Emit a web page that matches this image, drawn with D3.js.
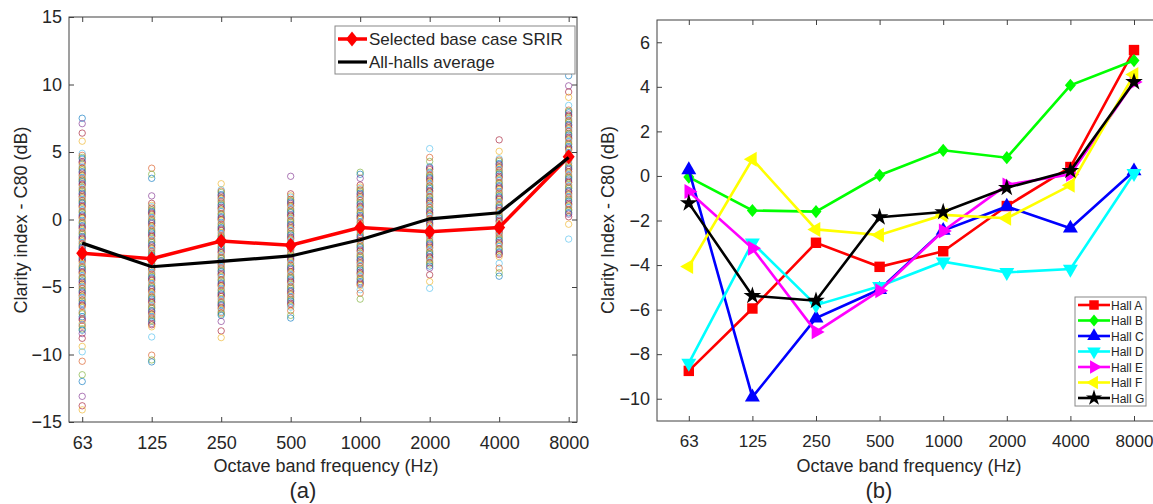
<!DOCTYPE html>
<html>
<head>
<meta charset="utf-8">
<script src="https://cdn.jsdelivr.net/npm/d3@7"></script>
<style>
  body { margin: 0; background: #fff; }
  text { font-family: Arial, "Liberation Sans", sans-serif; fill: #262626; }
</style>
</head>
<body>
<div id="chart"></div>
<script>
var w = 1153;
var h = 504;

var bands = ["63", "125", "250", "500", "1000", "2000", "4000", "8000"];

var c63 = [7.5, 7.1, 6.4, 5.8, 4.9, 4.75, 4.6, 4.5, 4.3, 4.2, 4.05, 3.9, 3.8, 3.7, 3.55, 3.45, 3.3, 3.2, 3.1, 3.0, 2.9, 2.8, 2.65, 2.55, 2.4, 2.3, 2.2, 2.1, 1.95, 1.85, 1.7, 1.6, 1.5, 1.4, 1.3, 1.2, 1.05, 0.95, 0.85, 0.7, 0.6, 0.5, 0.35, 0.25, 0.15, 0.05, -0.1, -0.2, -0.3, -0.45, -0.55, -0.65, -0.8, -0.9, -1.0, -1.1, -1.25, -1.35, -1.45, -1.6, -1.7, -1.8, -1.95, -2.05, -2.15, -2.3, -2.4, -2.55, -2.65, -2.8, -2.9, -3.0, -3.1, -3.25, -3.4, -3.5, -3.6, -3.7, -3.85, -3.95, -4.05, -4.2, -4.3, -4.4, -4.55, -4.65, -4.8, -4.9, -5.0, -5.1, -5.25, -5.35, -5.45, -5.6, -5.7, -5.8, -5.95, -6.05, -6.2, -6.3, -6.4, -6.5, -6.75, -6.9, -7.0, -7.2, -7.35, -7.45, -7.7, -7.8, -7.9, -8.1, -8.2, -8.45, -8.8, -9.4, -9.8, -10.5, -11.5, -12.0, -13.1, -13.8, -14.1];
var c125 = [3.8, 3.35, 3.05, 1.75, 1.2, 1.05, 0.95, 0.85, 0.7, 0.6, 0.5, 0.4, 0.25, 0.15, 0.0, -0.1, -0.2, -0.3, -0.45, -0.55, -0.7, -0.8, -0.9, -1.0, -1.15, -1.25, -1.4, -1.5, -1.6, -1.7, -1.85, -1.95, -2.1, -2.2, -2.3, -2.4, -2.55, -2.65, -2.8, -2.9, -3.0, -3.1, -3.25, -3.35, -3.5, -3.6, -3.7, -3.8, -3.95, -4.05, -4.2, -4.3, -4.4, -4.5, -4.65, -4.75, -4.9, -5.0, -5.1, -5.2, -5.35, -5.45, -5.6, -5.7, -5.8, -5.9, -6.05, -6.15, -6.3, -6.4, -6.5, -6.6, -6.75, -6.85, -7.0, -7.1, -7.2, -7.3, -7.45, -7.55, -7.7, -7.8, -7.95, -8.7, -10.05, -10.4, -10.55];
var c250 = [2.65, 2.2, 2.1, 2.0, 1.85, 1.75, 1.6, 1.5, 1.4, 1.3, 1.15, 1.05, 0.9, 0.8, 0.7, 0.6, 0.45, 0.35, 0.2, 0.1, 0.0, -0.1, -0.25, -0.35, -0.5, -0.6, -0.7, -0.8, -0.95, -1.05, -1.2, -1.3, -1.4, -1.5, -1.65, -1.75, -1.9, -2.0, -2.1, -2.2, -2.35, -2.45, -2.6, -2.7, -2.8, -2.9, -3.05, -3.15, -3.3, -3.4, -3.5, -3.6, -3.75, -3.85, -4.0, -4.1, -4.2, -4.3, -4.45, -4.55, -4.7, -4.8, -4.9, -5.0, -5.15, -5.25, -5.4, -5.5, -5.6, -5.7, -5.85, -5.95, -6.1, -6.2, -6.3, -6.4, -6.55, -6.65, -6.8, -6.9, -7.0, -7.1, -7.55, -8.25, -8.75];
var c500 = [3.2, 1.9, 1.75, 1.65, 1.5, 1.4, 1.3, 1.2, 1.05, 0.95, 0.8, 0.7, 0.6, 0.5, 0.35, 0.25, 0.1, 0.0, -0.1, -0.2, -0.35, -0.45, -0.6, -0.7, -0.8, -0.9, -1.05, -1.15, -1.3, -1.4, -1.5, -1.6, -1.75, -1.85, -2.0, -2.1, -2.2, -2.3, -2.45, -2.55, -2.7, -2.8, -2.9, -3.0, -3.15, -3.25, -3.4, -3.5, -3.6, -3.7, -3.85, -3.95, -4.1, -4.2, -4.3, -4.4, -4.55, -4.65, -4.8, -4.9, -5.0, -5.1, -5.25, -5.35, -5.5, -5.6, -5.7, -5.8, -5.95, -6.05, -6.2, -6.3, -6.4, -6.5, -6.75, -7.1, -7.3];
var c1000 = [3.5, 3.35, 3.05, 2.55, 2.4, 2.3, 2.2, 2.1, 1.95, 1.85, 1.7, 1.6, 1.5, 1.4, 1.25, 1.15, 1.0, 0.9, 0.8, 0.7, 0.55, 0.45, 0.3, 0.2, 0.1, 0.0, -0.15, -0.25, -0.4, -0.5, -0.6, -0.7, -0.85, -0.95, -1.1, -1.2, -1.3, -1.4, -1.55, -1.65, -1.8, -1.9, -2.0, -2.1, -2.25, -2.35, -2.5, -2.6, -2.7, -2.8, -2.95, -3.05, -3.2, -3.3, -3.4, -3.5, -3.65, -3.75, -3.9, -4.0, -4.1, -4.2, -4.35, -4.45, -4.6, -4.7, -4.8, -4.9, -5.2, -5.45, -5.9];
var c2000 = [5.25, 4.6, 4.3, 3.9, 3.8, 3.7, 3.55, 3.45, 3.3, 3.2, 3.1, 3.0, 2.85, 2.75, 2.6, 2.5, 2.4, 2.3, 2.15, 2.05, 1.9, 1.8, 1.7, 1.6, 1.45, 1.35, 1.2, 1.1, 1.0, 0.9, 0.75, 0.65, 0.5, 0.4, 0.3, 0.2, 0.05, -0.05, -0.2, -0.3, -0.4, -0.5, -0.65, -0.75, -0.9, -1.0, -1.1, -1.2, -1.35, -1.45, -1.6, -1.7, -1.8, -1.9, -2.05, -2.15, -2.3, -2.4, -2.5, -2.6, -2.75, -2.85, -3.0, -3.1, -3.2, -3.3, -3.45, -3.6, -4.1, -4.6, -5.1];
var c4000 = [5.9, 5.05, 4.5, 4.4, 4.3, 4.15, 4.05, 3.9, 3.8, 3.7, 3.6, 3.45, 3.35, 3.2, 3.1, 3.0, 2.9, 2.75, 2.65, 2.5, 2.4, 2.3, 2.2, 2.05, 1.95, 1.8, 1.7, 1.6, 1.5, 1.35, 1.25, 1.1, 1.0, 0.9, 0.8, 0.65, 0.55, 0.4, 0.3, 0.2, 0.1, -0.05, -0.15, -0.3, -0.4, -0.5, -0.6, -0.75, -0.85, -1.0, -1.1, -1.2, -1.3, -1.45, -1.55, -1.7, -1.8, -1.9, -2.0, -2.15, -2.25, -2.4, -2.5, -2.6, -2.75, -3.25, -3.6, -3.95, -4.2];
var c8000 = [10.65, 9.9, 9.45, 9.05, 8.45, 8.1, 8.0, 7.9, 7.75, 7.65, 7.5, 7.4, 7.3, 7.2, 7.05, 6.95, 6.8, 6.7, 6.6, 6.5, 6.35, 6.25, 6.1, 6.0, 5.9, 5.8, 5.65, 5.55, 5.4, 5.3, 5.2, 5.1, 4.95, 4.85, 4.7, 4.6, 4.5, 4.4, 4.25, 4.15, 4.0, 3.9, 3.8, 3.7, 3.55, 3.45, 3.3, 3.2, 3.1, 3.0, 2.85, 2.75, 2.6, 2.5, 2.4, 2.3, 2.15, 2.05, 1.9, 1.8, 1.7, 1.6, 1.45, 1.35, 1.2, 1.1, 1.0, 0.9, 0.75, 0.65, 0.5, 0.4, 0.2, -0.35, -1.45];
var scatterCols = [c63, c125, c250, c500, c1000, c2000, c4000, c8000];

var baseCase = [-2.5, -2.9, -1.6, -1.9, -0.6, -0.9, -0.6, 4.65];
var hallsAvg = [-1.75, -3.5, -3.1, -2.7, -1.5, 0.05, 0.5, 4.6];

// panel (b): per-hall values
var hallNames = ["Hall A", "Hall B", "Hall C", "Hall D", "Hall E", "Hall F", "Hall G"];
var hallA = [-8.75, -5.95, -3.0, -4.08, -3.38, -1.35, 0.4, 5.65];
var hallB = [-0.05, -1.55, -1.6, 0.03, 1.15, 0.82, 4.07, 5.18];
var hallC = [0.27, -9.93, -6.38, -5.1, -2.45, -1.37, -2.35, 0.22];
var hallD = [-8.4, -3.0, -5.8, -4.95, -3.85, -4.33, -4.18, 0.12];
var hallE = [-0.7, -3.25, -7.0, -5.15, -2.47, -0.4, 0.07, 4.22];
var hallF = [-4.07, 0.75, -2.4, -2.65, -1.75, -1.9, -0.42, 4.55];
var hallG = [-1.22, -5.38, -5.6, -1.85, -1.62, -0.53, 0.23, 4.22];
var hallVals = [hallA, hallB, hallC, hallD, hallE, hallF, hallG];
var hallColors = ["#ff0000", "#00ff00", "#0000ff", "#00ffff", "#ff00ff", "#ffff00", "#000000"];
var hallMarkers = ["square", "diamond", "up", "down", "right", "left", "star"];

var matlabColors = ["#0072BD", "#D95319", "#EDB120", "#7E2F8E", "#77AC30", "#4DBEEE", "#A2142F"];

var svg = d3.select("#chart")
            .append("svg")
            .attr("width", w)
            .attr("height", h);

svg.append("rect").attr("width", w).attr("height", h).attr("fill", "#fff");

function markerPath(type, s) {
  if (type == "diamond") {
    return "M0," + (-s * 1.2) + "L" + s + ",0L0," + (s * 1.2) + "L" + (-s) + ",0Z";
  }
  if (type == "square") return d3.symbol().type(d3.symbolSquare).size(s * s * 3.6)();
  if (type == "star") return d3.symbol().type(d3.symbolStar).size(s * s * 3.2)();
  return d3.symbol().type(d3.symbolTriangle).size(s * s * 3.2)();
}
function markerRot(type) {
  if (type == "down") return 180;
  if (type == "right") return 90;
  if (type == "left") return -90;
  return 0;
}

function drawFrame(g, x, y, yTicks, box, xFont) {
  var idx = d3.range(1, 9);
  g.append("g")
   .attr("class", "xlab")
   .attr("transform", "translate(0," + box.bottom + ")")
   .call(d3.axisBottom(x).tickValues(idx).tickFormat(function(d) { return bands[d - 1]; })
           .tickSizeInner(-5).tickSizeOuter(0).tickPadding(14))
   .call(function(a) { a.select(".domain").remove(); });
  g.append("g")
   .attr("transform", "translate(0," + box.top + ")")
   .call(d3.axisTop(x).tickValues(idx).tickFormat("").tickSizeInner(-5).tickSizeOuter(0))
   .call(function(a) { a.select(".domain").remove(); });
  g.append("g")
   .attr("transform", "translate(" + box.left + ",0)")
   .call(d3.axisLeft(y).tickValues(yTicks).tickSizeInner(-5).tickSizeOuter(0).tickPadding(7))
   .call(function(a) { a.select(".domain").remove(); });
  g.append("g")
   .attr("transform", "translate(" + box.right + ",0)")
   .call(d3.axisRight(y).tickValues(yTicks).tickFormat("").tickSizeInner(-5).tickSizeOuter(0))
   .call(function(a) { a.select(".domain").remove(); });
  g.selectAll(".tick line").attr("stroke", "#404040");
  g.selectAll(".tick text").style("font-size", "18px").attr("fill", "#262626");
  g.selectAll(".xlab .tick text").style("font-size", xFont);
  g.append("rect")
   .attr("x", box.left).attr("y", box.top)
   .attr("width", box.right - box.left).attr("height", box.bottom - box.top)
   .attr("fill", "none").attr("stroke", "#404040").attr("stroke-width", 1);
}

// ---------- panel (a) ----------
var xA = d3.scaleLinear().domain([0.81, 8.12]).range([69, 577]);
var yA = d3.scaleLinear().domain([-15, 15]).range([422, 17]);
var gA = svg.append("g");

var pts = [];
scatterCols.forEach(function(col, i) {
  col.forEach(function(v, j) { pts.push({band: i + 1, val: v, c: (j * 3 + i) % 7}); });
});
gA.append("g")
  .selectAll("circle")
  .data(pts)
  .enter()
  .append("circle")
  .attr("cx", function(d) { return xA(d.band); })
  .attr("cy", function(d) { return yA(d.val); })
  .attr("r", 3.2)
  .attr("fill", "none")
  .attr("stroke", function(d) { return matlabColors[d.c]; })
  .attr("stroke-width", 0.9)
  .attr("stroke-opacity", 0.7);

var lineA = d3.line()
              .x(function(d, i) { return xA(i + 1); })
              .y(function(d) { return yA(d); });

gA.append("path").datum(baseCase).attr("d", lineA)
  .attr("fill", "none").attr("stroke", "#ff0000").attr("stroke-width", 3.5);
gA.append("g").selectAll("path").data(baseCase).enter().append("path")
  .attr("d", "M0,-7.5L6,0L0,7.5L-6,0Z")
  .attr("transform", function(d, i) { return "translate(" + xA(i + 1) + "," + yA(d) + ")"; })
  .attr("fill", "#ff0000");
gA.append("path").datum(hallsAvg).attr("d", lineA)
  .attr("fill", "none").attr("stroke", "#000").attr("stroke-width", 3.2);

drawFrame(gA, xA, yA, [-15, -10, -5, 0, 5, 10, 15], {left: 69, right: 577, top: 17, bottom: 422}, "18px");

var legA = gA.append("g");
legA.append("rect").attr("x", 335).attr("y", 26).attr("width", 240).attr("height", 48)
    .attr("fill", "#fff").attr("stroke", "#888").attr("stroke-width", 1);
legA.append("line").attr("x1", 338).attr("x2", 367).attr("y1", 39).attr("y2", 39)
    .attr("stroke", "#ff0000").attr("stroke-width", 3.5);
legA.append("path").attr("d", "M0,-7.5L6,0L0,7.5L-6,0Z")
    .attr("transform", "translate(352,39)").attr("fill", "#ff0000");
legA.append("line").attr("x1", 338).attr("x2", 367).attr("y1", 62).attr("y2", 62)
    .attr("stroke", "#000").attr("stroke-width", 3.2);
legA.append("text").attr("x", 369).attr("y", 45).style("font-size", "17px").text("Selected base case SRIR");
legA.append("text").attr("x", 369).attr("y", 68).style("font-size", "17px").text("All-halls average");

gA.append("text").attr("transform", "translate(27,220) rotate(-90)")
  .attr("text-anchor", "middle").style("font-size", "18px").text("Clarity index - C80 (dB)");
gA.append("text").attr("x", 326).attr("y", 472)
  .attr("text-anchor", "middle").style("font-size", "18px").text("Octave band frequency (Hz)");
gA.append("text").attr("x", 303).attr("y", 498)
  .attr("text-anchor", "middle").style("font-size", "22px").text("(a)");

// ---------- panel (b) ----------
var xB = d3.scaleLinear().domain([0.5, 8.5]).range([657, 1165.8]);
var yB = d3.scaleLinear().domain([-11, 7]).range([421, 20]);
var gB = svg.append("g");

var lineB = d3.line()
              .x(function(d, i) { return xB(i + 1); })
              .y(function(d) { return yB(d); });

hallVals.forEach(function(vals, k) {
  gB.append("path").datum(vals).attr("d", lineB)
    .attr("fill", "none").attr("stroke", hallColors[k]).attr("stroke-width", 2.6);
  gB.append("g").selectAll("path").data(vals).enter().append("path")
    .attr("d", markerPath(hallMarkers[k], 5.5))
    .attr("transform", function(d, i) {
      return "translate(" + xB(i + 1) + "," + yB(d) + ") rotate(" + markerRot(hallMarkers[k]) + ")";
    })
    .attr("fill", hallColors[k]);
});

drawFrame(gB, xB, yB, [-10, -8, -6, -4, -2, 0, 2, 4, 6], {left: 657, right: 1165.8, top: 20, bottom: 421}, "17px");

var legB = gB.append("g");
legB.append("rect").attr("x", 1075).attr("y", 297).attr("width", 71).attr("height", 109)
    .attr("fill", "#fff").attr("stroke", "#888").attr("stroke-width", 1);
hallNames.forEach(function(name, k) {
  var ly = 305 + k * 15.5;
  legB.append("line").attr("x1", 1078).attr("x2", 1110).attr("y1", ly).attr("y2", ly)
      .attr("stroke", hallColors[k]).attr("stroke-width", 2.6);
  legB.append("path").attr("d", markerPath(hallMarkers[k], 5))
      .attr("transform", "translate(1094," + ly + ") rotate(" + markerRot(hallMarkers[k]) + ")")
      .attr("fill", hallColors[k]);
  legB.append("text").attr("x", 1111).attr("y", ly + 4.5).style("font-size", "12px").text(name);
});

gB.append("text").attr("transform", "translate(614,220) rotate(-90)")
  .attr("text-anchor", "middle").style("font-size", "18px").text("Clarity Index - C80 (dB)");
gB.append("text").attr("x", 909).attr("y", 472)
  .attr("text-anchor", "middle").style("font-size", "18px").text("Octave band frequency (Hz)");
gB.append("text").attr("x", 879).attr("y", 498)
  .attr("text-anchor", "middle").style("font-size", "22px").text("(b)");
</script>
</body>
</html>
